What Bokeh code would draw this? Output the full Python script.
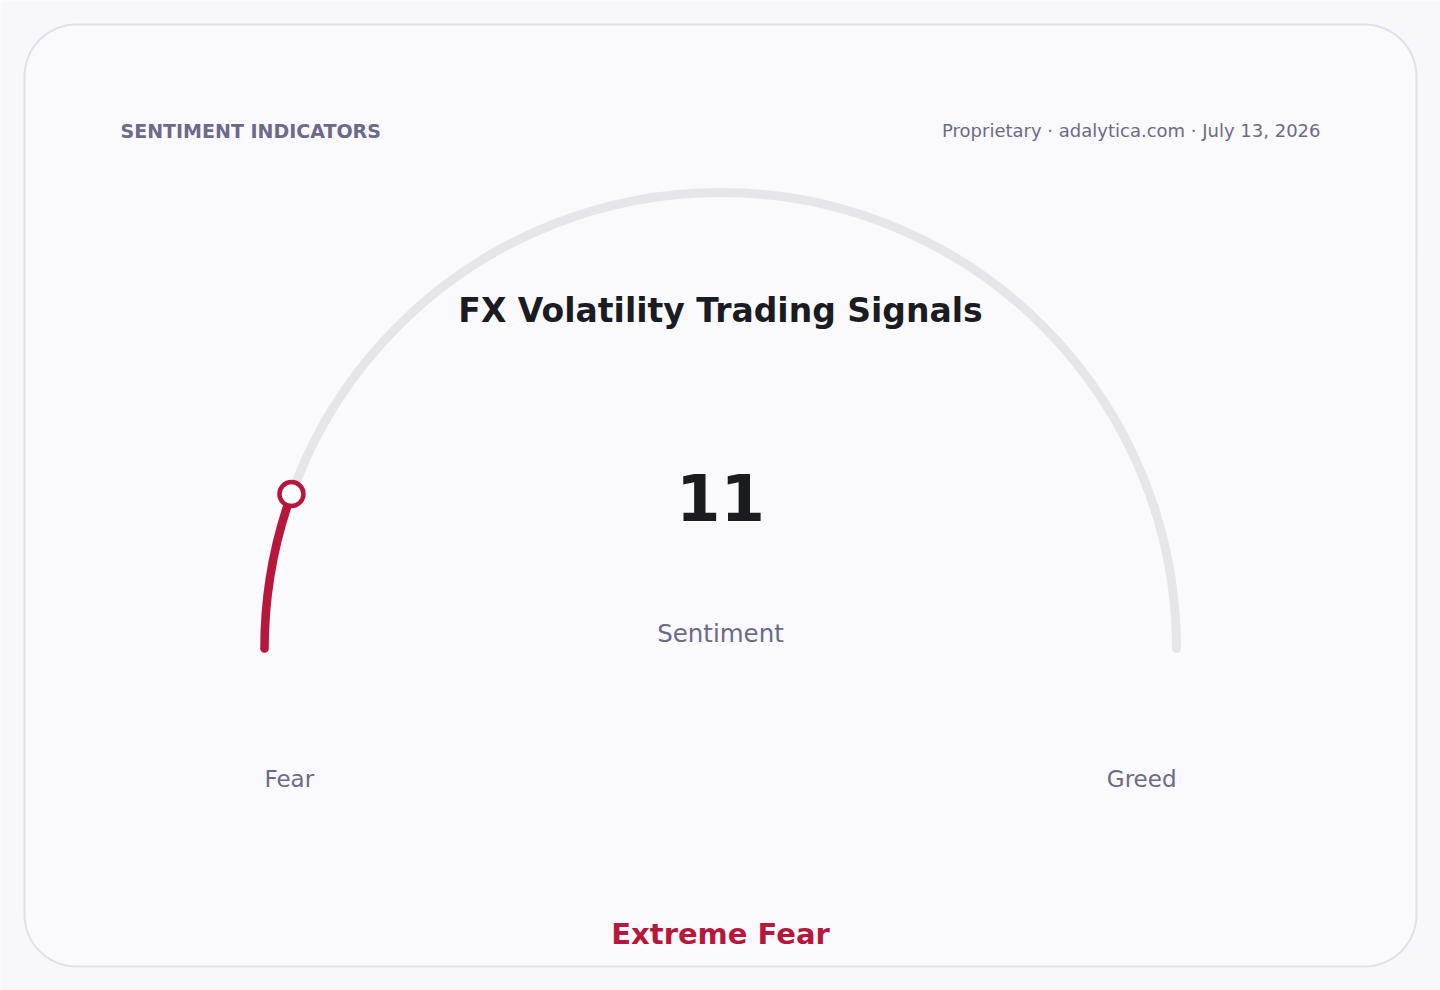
import numpy as np
from bokeh.plotting import figure
from bokeh.models import Range1d
from bokeh.core.properties import value
from bokeh.embed import file_html
from bokeh.resources import INLINE

# ---- data ----
indicator_value = [11]
scale_min = [0]
scale_max = [100]
scale_labels = ["Fear", "Greed"]
sentiment_label = ["Extreme Fear"]
title_text = ["FX Volatility Trading Signals"]
kicker_text = ["SENTIMENT INDICATORS"]
source_text = ["Proprietary · adalytica.com · July 13, 2026"]
value_caption = ["Sentiment"]

W, H = 1440, 990
FONT = "DejaVu Sans"
RED = "#b8173c"
TRACK = "#e6e5ec"
MUTED = "#6c6b85"
DARK = "#1b1b22"

p = figure(width=W, height=H, output_backend="svg", toolbar_location=None,
           x_range=Range1d(0, W), y_range=Range1d(0, H), min_border=0)
p.axis.visible = False
p.grid.visible = False
p.outline_line_color = None
p.background_fill_color = "#f8f8fc"
p.border_fill_color = "#f8f8fc"

# card with rounded corners
def rounded_rect(x0, y0, x1, y1, r, n=24):
    xs, ys = [], []
    corners = [(x1 - r, y1 - r, 0, 90), (x0 + r, y1 - r, 90, 180),
               (x0 + r, y0 + r, 180, 270), (x1 - r, y0 + r, 270, 360)]
    for cx, cy, a0, a1 in corners:
        t = np.radians(np.linspace(a0, a1, n))
        xs.extend(cx + r * np.cos(t))
        ys.extend(cy + r * np.sin(t))
    return xs, ys

cx_, cy_ = rounded_rect(24, 24, 1416, 966, 52)
p.patch(cx_, cy_, fill_color="#f9f9fe", line_color="#e0dfec", line_width=2)

# gauge
gx, gy, gr = 720, 342, 456
frac = (indicator_value[0] - scale_min[0]) / (scale_max[0] - scale_min[0])
ang_val = np.pi * (1 - frac)

p.arc(x=[gx], y=[gy], radius=gr, start_angle=0, end_angle=np.pi,
      line_color=TRACK, line_width=9, line_cap="round")
p.arc(x=[gx], y=[gy], radius=gr, start_angle=ang_val, end_angle=np.pi,
      line_color=RED, line_width=8.5, line_cap="round")
p.scatter(x=[gx + gr * np.cos(ang_val)], y=[gy + gr * np.sin(ang_val)],
          size=24, marker="circle", fill_color="white", line_color=RED, line_width=4.5)

# texts
p.text(x=[120], y=[860], text=kicker_text, text_font=value(FONT), text_font_style="bold",
       text_font_size="19px", text_color="#6c6a8a", text_align="left", text_baseline="middle")
p.text(x=[1320], y=[860], text=source_text, text_font=value(FONT),
       text_font_size="18px", text_color=MUTED, text_align="right", text_baseline="middle")
p.text(x=[720], y=[680], text=title_text, text_font=value(FONT), text_font_style="bold",
       text_font_size="33px", text_color=DARK, text_align="center", text_baseline="middle")
p.text(x=[720], y=[493], text=[str(indicator_value[0])], text_font=value(FONT), text_font_style="bold",
       text_font_size="64px", text_color=DARK, text_align="center", text_baseline="middle")
p.text(x=[720], y=[357], text=value_caption, text_font=value(FONT),
       text_font_size="24.5px", text_color=MUTED, text_align="center", text_baseline="middle")
p.text(x=[gx - gr], y=[212], text=[scale_labels[0]], text_font=value(FONT),
       text_font_size="23px", text_color=MUTED, text_align="left", text_baseline="middle")
p.text(x=[gx + gr], y=[212], text=[scale_labels[1]], text_font=value(FONT),
       text_font_size="23px", text_color=MUTED, text_align="right", text_baseline="middle")
p.text(x=[720], y=[57], text=sentiment_label, text_font=value(FONT), text_font_style="bold",
       text_font_size="29px", text_color=RED, text_align="center", text_baseline="middle")

open("out.html", "w").write(file_html(p, INLINE))
